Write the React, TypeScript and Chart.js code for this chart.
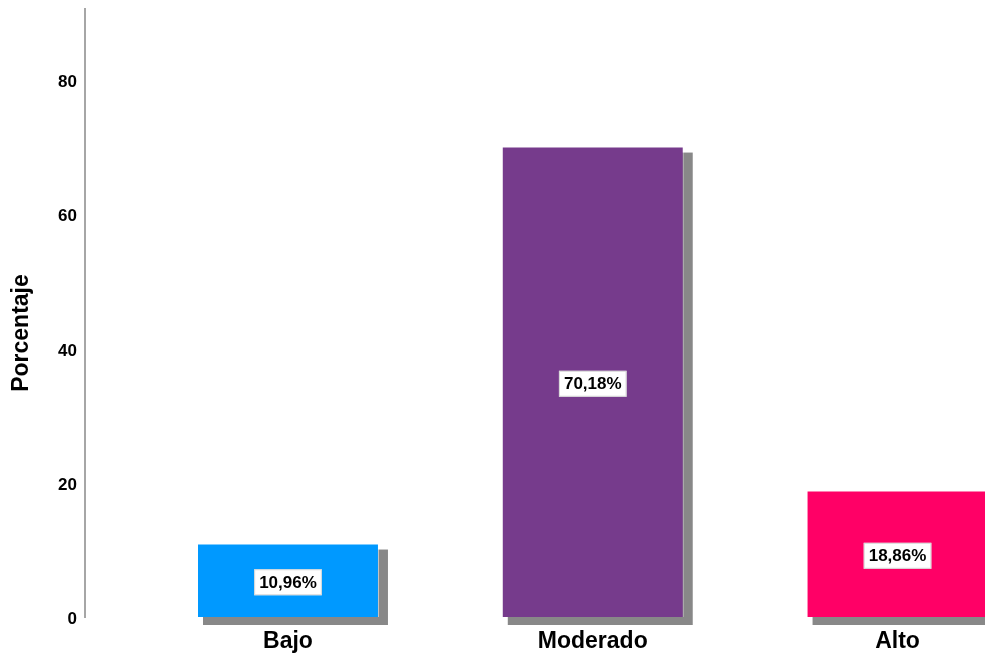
import React, { useEffect, useRef } from 'react';
import { Chart, registerables } from 'chart.js';

Chart.register(...registerables);

const categories = ['Bajo', 'Moderado', 'Alto'];
const percentages = [10.96, 70.18, 18.86];
const yTickValues = [0, 20, 40, 60, 80];
const barColors = ['#0099FF', '#763B8C', '#FF0066'];
const yAxisTitle = 'Porcentaje';

const FONT = '"Liberation Sans", Arial, sans-serif';

const fmt = (v: number) => v.toFixed(2).replace('.', ',') + '%';

export default function App() {
  const ref = useRef<HTMLCanvasElement>(null);

  useEffect(() => {
    if (!ref.current) return;

    const shadowPlugin = {
      id: 'barShadow',
      beforeDatasetsDraw(chart: any) {
        const ctx = chart.ctx;
        const meta = chart.getDatasetMeta(0);
        ctx.save();
        ctx.fillStyle = '#888888';
        meta.data.forEach((bar: any) => {
          const left = bar.x - bar.width / 2;
          ctx.fillRect(left + 6, bar.y + 6, bar.width + 3, bar.base - bar.y + 2);
        });
        ctx.restore();
      },
    };

    const labelPlugin = {
      id: 'boxLabels',
      afterDatasetsDraw(chart: any) {
        const ctx = chart.ctx;
        const meta = chart.getDatasetMeta(0);
        ctx.save();
        ctx.font = `bold 17px ${FONT}`;
        ctx.textAlign = 'center';
        ctx.textBaseline = 'middle';
        meta.data.forEach((bar: any, i: number) => {
          const text = fmt(percentages[i]);
          const w = ctx.measureText(text).width + 10;
          const h = 26;
          const cx = bar.x;
          const cy = (bar.y + bar.base) / 2 + 2;
          ctx.fillStyle = '#ffffff';
          ctx.fillRect(cx - w / 2, cy - h / 2, w, h);
          ctx.strokeStyle = 'rgba(210,210,210,0.9)';
          ctx.lineWidth = 1;
          ctx.strokeRect(cx - w / 2 + 0.5, cy - h / 2 + 0.5, w - 1, h - 1);
          ctx.fillStyle = '#000000';
          ctx.fillText(text, cx, cy + 1);
        });
        ctx.restore();
      },
    };

    const titlePlugin = {
      id: 'yTitle',
      afterDraw(chart: any) {
        const ctx = chart.ctx;
        const area = chart.chartArea;
        ctx.save();
        ctx.translate(22, (area.top + area.bottom) / 2 + 20);
        ctx.rotate(-Math.PI / 2);
        ctx.font = `bold 23px ${FONT}`;
        ctx.fillStyle = '#000000';
        ctx.textAlign = 'center';
        ctx.textBaseline = 'middle';
        ctx.fillText(yAxisTitle, 0, 0);
        ctx.restore();
      },
    };

    const chart = new Chart(ref.current, {
      type: 'bar',
      data: {
        datasets: [
          {
            data: percentages.map((v, i) => ({ x: i, y: v })),
            backgroundColor: barColors,
            borderColor: 'rgba(255,255,255,0.55)',
            borderWidth: 1,
            categoryPercentage: 1,
            barPercentage: 0.597,
          },
        ],
      },
      options: {
        animation: false,
        responsive: false,
        layout: { padding: { top: 9, left: 0, right: 0, bottom: 0 } },
        plugins: {
          legend: { display: false },
          tooltip: { enabled: false },
        },
        scales: {
          x: {
            type: 'linear',
            min: -0.666,
            max: 2.287,
            offset: false,
            grid: { display: false, offset: false, drawTicks: false },
            border: { display: false },
            afterBuildTicks: (scale: any) => {
              scale.ticks = categories.map((_, i) => ({ value: i }));
            },
            afterFit: (scale: any) => {
              scale.height = 37;
              scale.paddingLeft = 0;
              scale.paddingRight = 0;
            },
            ticks: {
              autoSkip: false,
              maxRotation: 0,
              minRotation: 0,
              padding: 11,
              color: '#000000',
              font: { family: FONT, size: 23, weight: 'bold' },
              callback: (value: any) => categories[Math.round(Number(value))] ?? '',
            },
          },
          y: {
            min: 0,
            max: 90.7,
            grid: { display: false, drawTicks: false },
            border: { display: true, color: '#a6a6a6', width: 2 },
            afterBuildTicks: (scale: any) => {
              scale.ticks = yTickValues.map((v) => ({ value: v }));
            },
            afterFit: (scale: any) => {
              scale.width = 85;
              scale.paddingTop = 0;
              scale.paddingBottom = 0;
            },
            ticks: {
              padding: 8,
              labelOffset: 2,
              color: '#000000',
              font: { family: FONT, size: 17, weight: 'bold' },
              callback: (value: any) => String(value),
            },
          },
        },
      },
      plugins: [shadowPlugin, labelPlugin, titlePlugin],
    } as any);

    return () => chart.destroy();
  }, []);

  return (
    <div style={{ position: 'fixed', left: 0, top: 0, width: 985, height: 654 }}>
      <canvas ref={ref} width={985} height={654} style={{ display: 'block' }} />
    </div>
  );
}
